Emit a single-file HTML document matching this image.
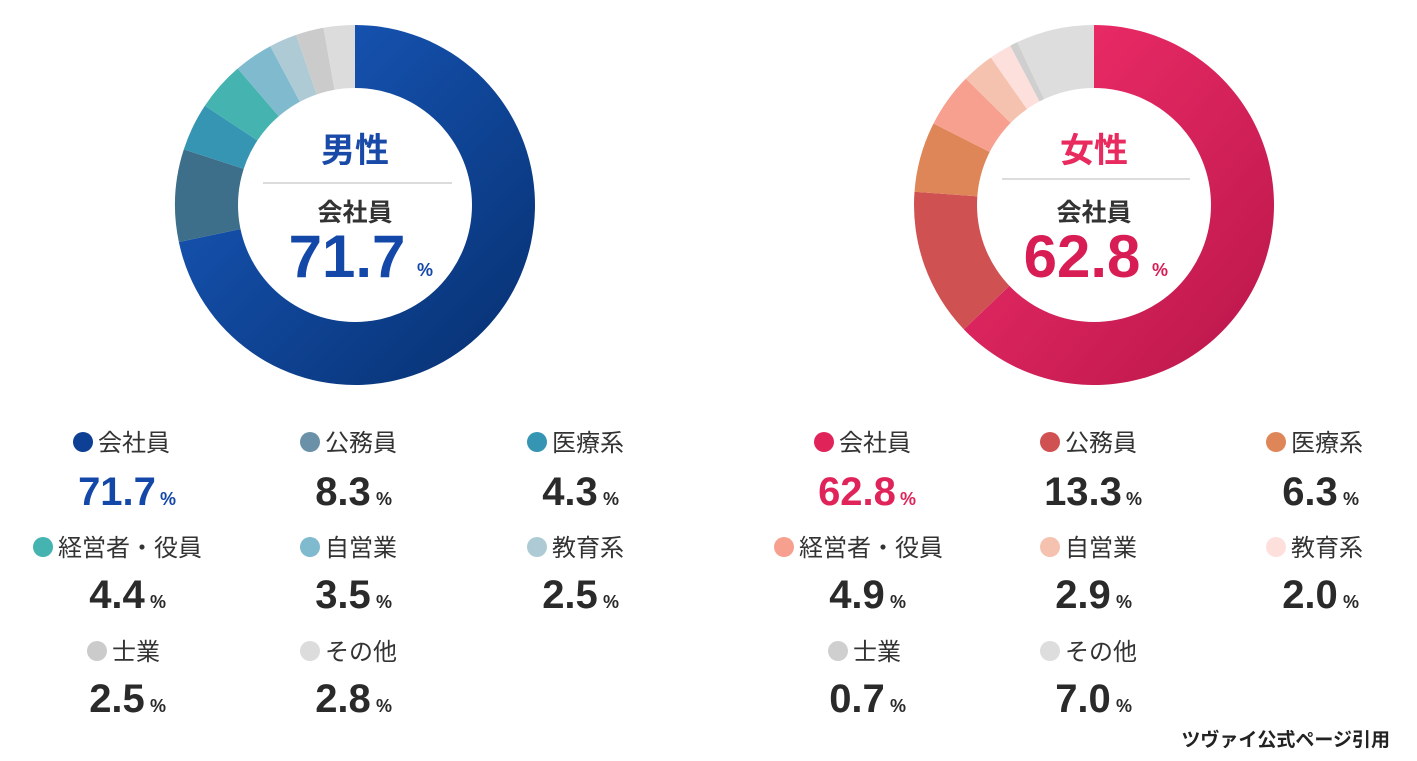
<!DOCTYPE html>
<html><head><meta charset="utf-8"><style>
body{margin:0;background:#fff;}
svg text{font-family:"Liberation Sans","Noto Sans CJK JP",sans-serif;}
.l{font-size:24px;fill:#333;}
.v{font-size:40px;font-weight:bold;fill:#2a2a2a;}
.p{font-size:18px;font-weight:bold;}
</style></head><body>
<svg id="s" width="1417" height="756" xmlns="http://www.w3.org/2000/svg">
<defs>
<linearGradient id="gb" x1="0" y1="0" x2="1" y2="1"><stop offset="0" stop-color="#1a5dc4"/><stop offset="1" stop-color="#062f6e"/></linearGradient>
<linearGradient id="gr" x1="0" y1="0" x2="1" y2="1"><stop offset="0" stop-color="#f52f6c"/><stop offset="1" stop-color="#b8164a"/></linearGradient>
</defs>
<g id="d1"></g><g id="d2"></g>
<circle cx="355" cy="205" r="117" fill="#fff"/>
<circle cx="1094" cy="205" r="117" fill="#fff"/>
<text x="355" y="162" text-anchor="middle" font-size="34" font-weight="bold" fill="#1a4aa8">男性</text>
<line x1="263" y1="183" x2="452" y2="183" stroke="#d0d0d0" stroke-width="1.5"/>
<text x="355" y="221" text-anchor="middle" font-size="25" font-weight="bold" fill="#333">会社員</text>
<text x="347" y="277" text-anchor="middle" font-size="60" font-weight="bold" fill="#1448a8">71.7</text>
<text x="425" y="276" text-anchor="middle" font-size="18" font-weight="bold" fill="#1448a8">%</text>
<text x="1094" y="162" text-anchor="middle" font-size="34" font-weight="bold" fill="#e82a5e">女性</text>
<line x1="1002" y1="179" x2="1190" y2="179" stroke="#d0d0d0" stroke-width="1.5"/>
<text x="1094" y="221" text-anchor="middle" font-size="25" font-weight="bold" fill="#333">会社員</text>
<text x="1082" y="277" text-anchor="middle" font-size="60" font-weight="bold" fill="#d81d55">62.8</text>
<text x="1160" y="276" text-anchor="middle" font-size="18" font-weight="bold" fill="#d81d55">%</text>
<g id="lg"></g>
<text x="1390" y="746" text-anchor="end" font-size="19" font-weight="bold" fill="#222">ツヴァイ公式ページ引用</text>
</svg>
<script>
function donut(id,cx,cy,data){
 var g=document.getElementById(id),a=0,R=180,tot=0;data.forEach(d=>tot+=d[0]);
 data.forEach(function(d){
  var a0=a/tot*2*Math.PI,a1=(a+d[0])/tot*2*Math.PI;a+=d[0];
  var x0=cx+R*Math.sin(a0),y0=cy-R*Math.cos(a0),x1=cx+R*Math.sin(a1),y1=cy-R*Math.cos(a1);
  var p=document.createElementNS("http://www.w3.org/2000/svg","path");
  p.setAttribute("d","M"+cx+","+cy+"L"+x0+","+y0+"A"+R+","+R+" 0 "+((a1-a0)>Math.PI?1:0)+" 1 "+x1+","+y1+"Z");
  p.setAttribute("fill",d[1]);g.appendChild(p);
 });
}
donut("d1",355,205,[[71.7,"url(#gb)"],[8.3,"#3d6f8a"],[4.3,"#3595b3"],[4.4,"#45b3b0"],[3.5,"#7fbace"],[2.5,"#aecbd5"],[2.5,"#cbcbcb"],[2.8,"#dcdcdc"]]);
donut("d2",1094,205,[[62.8,"url(#gr)"],[13.3,"#cf5152"],[6.3,"#de8658"],[4.9,"#f8a090"],[2.9,"#f6c2b0"],[2.0,"#fde0dc"],[0.7,"#cfcfcf"],[7.0,"#dddddd"]]);
var L=[
 [83,442,"会社員","#0d3f94",127,505,"71.7","#1448a8"],
 [310,442,"公務員","#6a91a8",353,505,"8.3","#2a2a2a"],
 [537,442,"医療系","#3595b3",580,505,"4.3","#2a2a2a"],
 [43,547,"経営者・役員","#45b3b0",127,608,"4.4","#2a2a2a"],
 [310,547,"自営業","#7fbace",353,608,"3.5","#2a2a2a"],
 [537,547,"教育系","#aecbd5",580,608,"2.5","#2a2a2a"],
 [97,651,"士業","#cbcbcb",127,712,"2.5","#2a2a2a"],
 [310,651,"その他","#dcdcdc",353,712,"2.8","#2a2a2a"],
 [824,442,"会社員","#e0245a",867,505,"62.8","#e0245a"],
 [1050,442,"公務員","#cf5152",1093,505,"13.3","#2a2a2a"],
 [1276,442,"医療系","#de8658",1320,505,"6.3","#2a2a2a"],
 [784,547,"経営者・役員","#f8a090",867,608,"4.9","#2a2a2a"],
 [1050,547,"自営業","#f6c2b0",1093,608,"2.9","#2a2a2a"],
 [1276,547,"教育系","#fde0dc",1320,608,"2.0","#2a2a2a"],
 [838,651,"士業","#cfcfcf",867,712,"0.7","#2a2a2a"],
 [1050,651,"その他","#dddddd",1093,712,"7.0","#2a2a2a"]];
var h="";
L.forEach(function(r){
 h+='<circle cx="'+r[0]+'" cy="'+r[1]+'" r="10" fill="'+r[3]+'"/>';
 h+='<text class="l" x="'+(r[0]+15)+'" y="'+(r[1]+9)+'">'+r[2]+'</text>';
 h+='<text class="v" x="'+(r[4]-10)+'" y="'+r[5]+'" text-anchor="middle" style="fill:'+r[7]+'">'+r[6]+'</text>';
 var w=r[6].length*20;
 h+='<text class="p" x="'+(r[4]-10+w/2+3)+'" y="'+r[5]+'" style="fill:'+r[7]+'">%</text>';
});
document.getElementById("lg").innerHTML=h;
</script>
</body></html>
